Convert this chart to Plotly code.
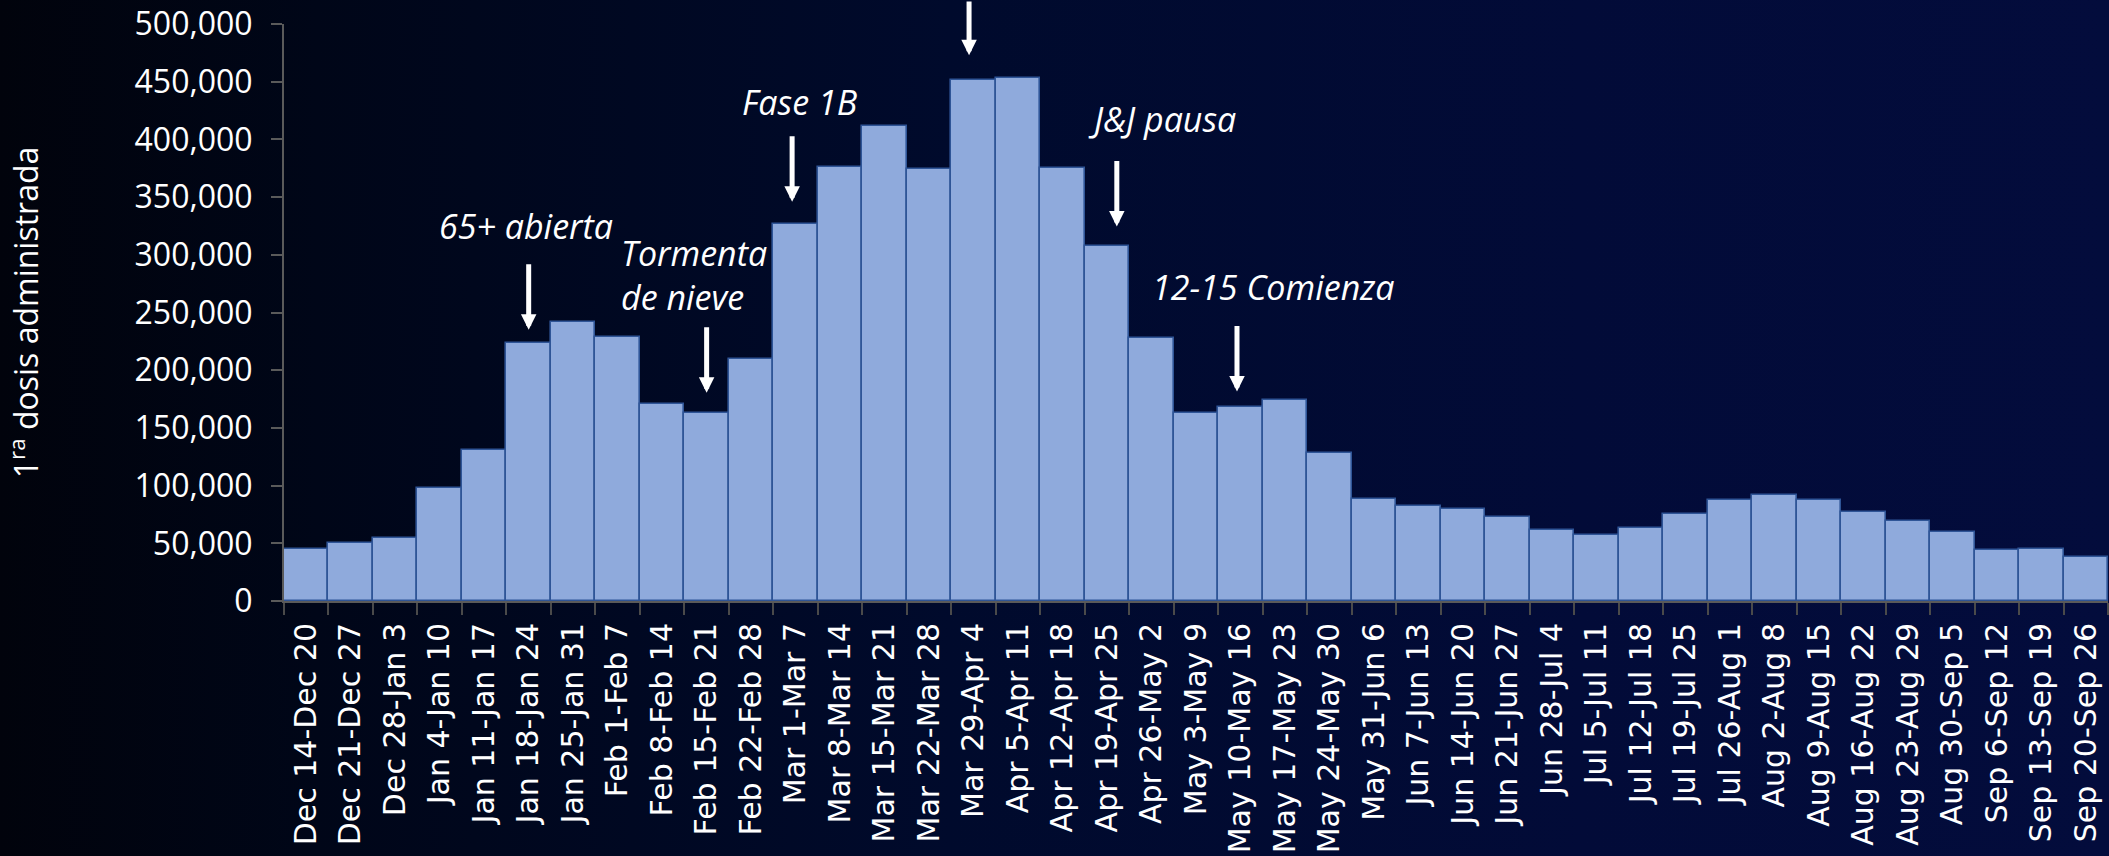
import base64
import plotly.graph_objects as go

# ---------------- data ----------------
weeks = [
    "Dec 14-Dec 20", "Dec 21-Dec 27", "Dec 28-Jan 3", "Jan 4-Jan 10", "Jan 11-Jan 17",
    "Jan 18-Jan 24", "Jan 25-Jan 31", "Feb 1-Feb 7", "Feb 8-Feb 14", "Feb 15-Feb 21",
    "Feb 22-Feb 28", "Mar 1-Mar 7", "Mar 8-Mar 14", "Mar 15-Mar 21", "Mar 22-Mar 28",
    "Mar 29-Apr 4", "Apr 5-Apr 11", "Apr 12-Apr 18", "Apr 19-Apr 25", "Apr 26-May 2",
    "May 3-May 9", "May 10-May 16", "May 17-May 23", "May 24-May 30", "May 31-Jun 6",
    "Jun 7-Jun 13", "Jun 14-Jun 20", "Jun 21-Jun 27", "Jun 28-Jul 4", "Jul 5-Jul 11",
    "Jul 12-Jul 18", "Jul 19-Jul 25", "Jul 26-Aug 1", "Aug 2-Aug 8", "Aug 9-Aug 15",
    "Aug 16-Aug 22", "Aug 23-Aug 29", "Aug 30-Sep 5", "Sep 6-Sep 12", "Sep 13-Sep 19",
    "Sep 20-Sep 26",
]
first_doses = [
    45000, 50000, 54500, 97500, 131000,
    223500, 242000, 229000, 170500, 162500,
    210000, 327000, 376500, 411500, 374000,
    451500, 453000, 375500, 308000, 228000,
    162500, 168000, 174000, 128000, 88000,
    82500, 80000, 72700, 61700, 57600,
    63600, 75100, 87600, 91900, 87600,
    76900, 69400, 59800, 44500, 45400,
    38200,
]
y_ticks = [0, 50000, 100000, 150000, 200000, 250000, 300000, 350000, 400000, 450000, 500000]

# event markers: (week, arrow tip value)
event_weeks = ["Jan 18-Jan 24", "Feb 15-Feb 21", "Mar 1-Mar 7", "Mar 29-Apr 4",
               "Apr 19-Apr 25", "May 10-May 16"]
event_tips = [235000, 180500, 346000, 473000, 324500, 181500]
event_labels = ["65+ abierta", "Tormenta<br>de nieve", "Fase 1B", "", "J&J pausa", "12-15 Comienza"]
label_values = [325000, 282700, 432400, 0, 418000, 272400]

# ---------------- layout constants ----------------
W, H = 2109, 856
L, R, T, B = 284, 1, 24, 255
PW, PH = W - L - R, H - T - B

arrow_shift = [0, 0, -3.5, -4.5, 9.8, -3.5]
label_shift = [-2.7, -88, 4, 0, 54.5, 33]
label_anchor = ["center", "left", "center", "center", "center", "center"]

# gradient background (svg data uri)
svg = f'''<svg xmlns="http://www.w3.org/2000/svg" width="{W}" height="{H}">
<defs><linearGradient id="g" x1="0" y1="0" x2="1" y2="0">
<stop offset="0" stop-color="#01030c"/>
<stop offset="0.15" stop-color="#000618"/>
<stop offset="0.45" stop-color="#000a2c"/>
<stop offset="0.75" stop-color="#020b38"/>
<stop offset="1" stop-color="#030c3c"/>
</linearGradient></defs>
<rect width="{W}" height="{H}" fill="url(#g)"/></svg>'''
bg_src = "data:image/svg+xml;base64," + base64.b64encode(svg.encode()).decode()

fig = go.Figure()
fig.add_trace(go.Bar(
    x=weeks, y=first_doses,
    marker=dict(color="#8FAADC", line=dict(color="#2F5597", width=1.6)),
    hoverinfo="x+y",
))

annotations = []
for wk, tip, sh in zip(event_weeks, event_tips, arrow_shift):
    annotations.append(dict(
        x=wk, y=tip, xref="x", yref="y", text="", showarrow=True,
        ax=0, ay=-67, axref="pixel", ayref="pixel", xshift=sh,
        arrowhead=2, arrowsize=0.62, arrowwidth=5, arrowcolor="white",
    ))
for wk, txt, val, sh, anc in zip(event_weeks, event_labels, label_values, label_shift, label_anchor):
    if not txt:
        continue
    annotations.append(dict(
        x=wk, y=val, xref="x", yref="y", text=f"<i>{txt}</i>", showarrow=False,
        xshift=sh, xanchor=anc, align="left" if anc == "left" else "center",
        font=dict(family="Open Sans", size=34, color="white"),
    ))

fig.update_layout(
    width=W, height=H,
    margin=dict(l=L, r=R, t=T, b=B, pad=0),
    template="none",
    paper_bgcolor="#010826",
    plot_bgcolor="rgba(0,0,0,0)",
    bargap=0,
    showlegend=False,
    annotations=annotations,
    images=[dict(
        source=bg_src, xref="paper", yref="paper",
        x=-L / PW, y=1 + T / PH, sizex=W / PW, sizey=H / PH,
        xanchor="left", yanchor="top", sizing="stretch", layer="below",
    )],
    xaxis=dict(
        type="category", automargin=False,
        showline=True, linecolor="#5a5a5a", linewidth=2,
        ticks="outside", ticklen=12, tickwidth=2, tickcolor="#4a4a4a",
        tickson="boundaries", tickangle=-90, ticklabelstandoff=8,
        tickfont=dict(family="DejaVu Sans", size=30, color="white"),
        showgrid=False, zeroline=False,
    ),
    yaxis=dict(
        range=[0, 500000], tickvals=y_ticks, tickformat=",", automargin=False,
        showline=True, linecolor="#5a5a5a", linewidth=2,
        ticks="outside", ticklen=11, tickwidth=2, tickcolor="#5a5a5a",
        ticklabelstandoff=12,
        tickfont=dict(family="Open Sans", size=32, color="white"),
        showgrid=False, zeroline=False,
        title=dict(text="1<sup>ra</sup> dosis administrada", standoff=86,
                   font=dict(family="Open Sans", size=32, color="white")),
    ),
)

fig.write_html(
    "out.html",
    config={"displayModeBar": False},
    post_script="document.body.style.margin='0';document.body.style.overflow='hidden';"
                "document.body.style.background='#01030c';",
)
